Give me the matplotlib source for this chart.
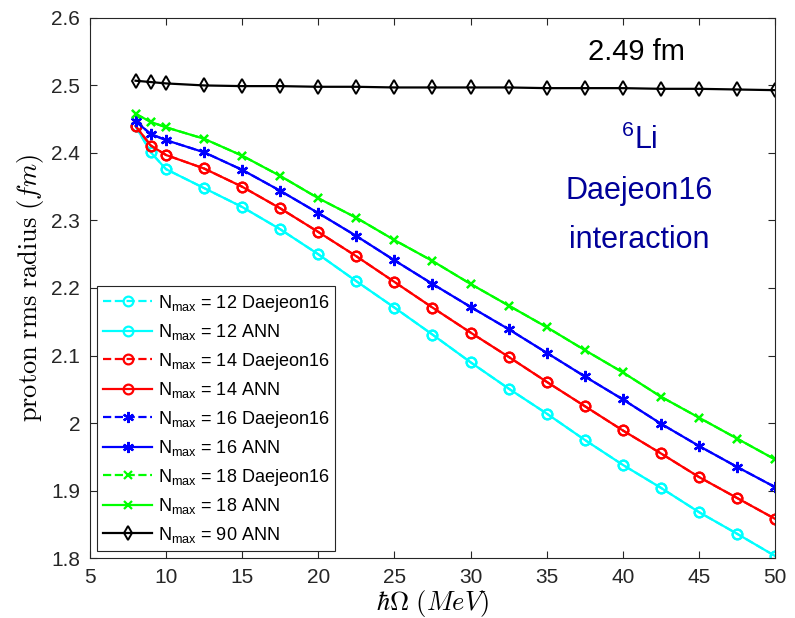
import numpy as np
import matplotlib.pyplot as plt

plt.rcParams['font.family'] = ['Liberation Sans', 'DejaVu Sans']
plt.rcParams['mathtext.fontset'] = 'cm'

# hbar*Omega values (MeV)
hw = [8, 9, 10, 12.5, 15, 17.5, 20, 22.5, 25, 27.5, 30, 32.5, 35, 37.5, 40, 42.5, 45, 47.5, 50]

# proton rms radius (fm)
r12 = [2.440, 2.401, 2.376, 2.348, 2.320, 2.287, 2.250, 2.210, 2.171, 2.131, 2.090, 2.051,
       2.014, 1.975, 1.938, 1.904, 1.868, 1.836, 1.803]
r14 = [2.440, 2.411, 2.397, 2.377, 2.350, 2.318, 2.283, 2.247, 2.209, 2.171, 2.134, 2.098,
       2.061, 2.025, 1.989, 1.955, 1.920, 1.889, 1.858]
r16 = [2.447, 2.428, 2.419, 2.401, 2.375, 2.344, 2.311, 2.277, 2.241, 2.206, 2.172, 2.139,
       2.104, 2.069, 2.035, 1.999, 1.966, 1.935, 1.905]
r18 = [2.458, 2.446, 2.438, 2.421, 2.396, 2.366, 2.333, 2.304, 2.271, 2.240, 2.206, 2.174,
       2.142, 2.108, 2.075, 2.039, 2.008, 1.977, 1.946]
r90 = [2.507, 2.505, 2.503, 2.500, 2.499, 2.499, 2.498, 2.498, 2.497, 2.497, 2.497, 2.497,
       2.496, 2.496, 2.496, 2.495, 2.495, 2.494, 2.493]

asterisk = (6, 2, 0)  # matlab-like '*'

series = [
    (12, r12, 'cyan', 'o', 7),
    (14, r14, 'red', 'o', 7),
    (16, r16, 'blue', asterisk, 8),
    (18, r18, 'lime', 'x', 6),
]

fig = plt.figure(figsize=(7.95, 6.18), dpi=100)
ax = fig.add_axes([0.113, 0.097, 0.862, 0.874])

for n, r, c, m, ms in series:
    ax.plot(hw, r, ls='--', color=c, marker=m, ms=ms, mfc='none', mew=1.6, lw=1.6,
            label=r'$\mathregular{N_{max}}$ = %d Daejeon16' % n)
    ax.plot(hw, r, ls='-', color=c, marker=m, ms=ms, mfc='none', mew=1.6, lw=1.6,
            label=r'$\mathregular{N_{max}}$ = %d ANN' % n)
ax.plot(hw, r90, ls='-', color='black', marker='d', ms=7, mfc='none', mew=1.4, lw=1.6,
        label=r'$\mathregular{N_{max}}$ = 90 ANN')

ax.set_xlim(5, 50)
ax.set_ylim(1.8, 2.6)
ax.set_xticks(np.arange(5, 51, 5))
ax.set_yticks(np.arange(1.8, 2.61, 0.1))
ax.set_yticklabels(['1.8', '1.9', '2', '2.1', '2.2', '2.3', '2.4', '2.5', '2.6'])
ax.tick_params(direction='in', top=True, right=True, labelsize=15, colors='#262626',
               length=5, width=0.8, pad=7)
for s in ax.spines.values():
    s.set_color('#262626')
    s.set_linewidth(0.8)

ax.set_xlabel(r'$\hbar\Omega\ (MeV)$', fontsize=19, labelpad=1)
ax.set_ylabel(r'$\mathrm{proton\ rms\ radius}\ (fm)$', fontsize=19, labelpad=4)

ax.text(40.9, 2.549, '2.49 fm', fontsize=21, ha='center', va='center')
ax.text(41.1, 2.345, r'$\mathregular{^6}$Li' + '\nDaejeon16\ninteraction', fontsize=22,
        color='#000099', ha='center', va='center', linespacing=1.85)

leg = ax.legend(loc='lower left', fontsize=13, handlelength=2.7, handletextpad=0.3,
                borderpad=0.35, labelspacing=0.47, fancybox=False, framealpha=1,
                edgecolor='#262626', borderaxespad=0.4)
leg.get_frame().set_linewidth(0.8)

fig.savefig('out.png', dpi=100)
